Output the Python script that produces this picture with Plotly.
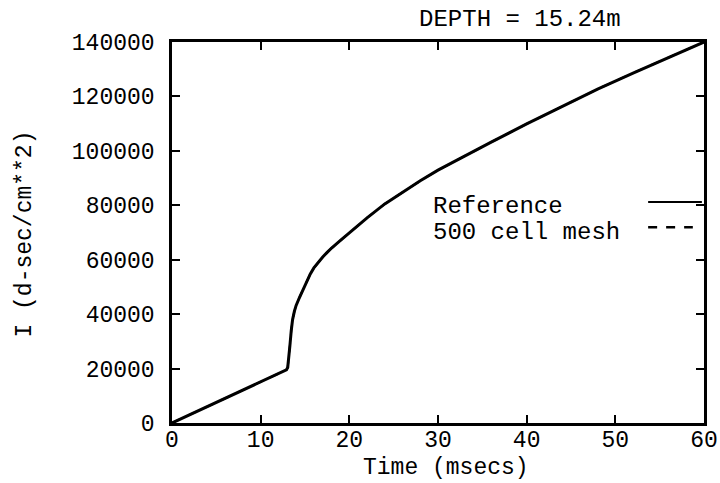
import plotly.graph_objects as go

# Data
time_ms = [0, 12.9, 13.05, 13.15, 13.3, 13.45, 13.6, 13.8, 14.0, 14.4, 14.8, 15.2, 15.6,
           16.0, 16.5, 17.0, 17.5, 18.0, 19.0, 20.0, 22.0, 24.0, 26.0, 28.0,
           30.0, 33.0, 36.0, 40.0, 44.0, 48.0, 52.0, 56.0, 60.0]
impulse_ref = [0, 19500, 20400, 23000, 28500, 34000, 38000, 41000, 43200, 46300, 49300,
               52200, 54800, 57000, 59200, 61000, 62700, 64300, 67100, 69900,
               75400, 80500, 84900, 89000, 92900, 98100, 103200, 109900, 116400,
               122700, 128600, 134300, 140000]
impulse_mesh = list(impulse_ref)  # visually coincident with the reference curve

x_ticks = [0, 10, 20, 30, 40, 50, 60]
y_ticks = [0, 20000, 40000, 60000, 80000, 100000, 120000, 140000]

FONT = "Liberation Mono"
FS = 23
FS_TXT = 24

fig = go.Figure()
fig.add_trace(go.Scatter(x=time_ms, y=impulse_ref, mode="lines", name="Reference",
                         line=dict(color="black", width=3)))
fig.add_trace(go.Scatter(x=time_ms, y=impulse_mesh, mode="lines", name="500 cell mesh",
                         line=dict(color="black", width=2, dash="dash")))

axis_common = dict(showline=True, linecolor="black", linewidth=2.5, mirror="ticks",
                   ticks="inside", ticklen=8, tickwidth=2, tickcolor="black",
                   showgrid=False, zeroline=False, automargin=False,
                   tickfont=dict(family=FONT, size=FS, color="black"))

fig.update_xaxes(range=[0, 60], tickvals=x_ticks, ticklabelstandoff=-6, **axis_common)
fig.update_yaxes(range=[0, 140000], tickvals=y_ticks, ticktext=[str(v) for v in y_ticks],
                 ticklabelstandoff=10, **axis_common)

# Axis titles
fig.add_annotation(x=0.515, y=-0.119, xref="paper", yref="paper", text="Time (msecs)",
                   showarrow=False, xanchor="center", yanchor="middle", borderpad=0,
                   font=dict(family=FONT, size=FS, color="black"))
fig.add_annotation(x=-0.276, y=0.495, xref="paper", yref="paper", text="I (d-sec/cm**2)",
                   showarrow=False, xanchor="center", yanchor="middle", textangle=-90,
                   font=dict(family=FONT, size=FS, color="black"))

# Legend drawn as text with sample lines on the right, like the original
legend_items = [("Reference", "solid", 0.5675, 0.580, 0.996),
                ("500 cell mesh", "dash", 0.499, 0.514, 0.979)]
for label, dash, ty, ly, lx1 in legend_items:
    fig.add_annotation(x=0.489, y=ty, xref="paper", yref="paper", text=label,
                       showarrow=False, xanchor="left", yanchor="middle", borderpad=0,
                       font=dict(family=FONT, size=FS_TXT, color="black"))
    fig.add_shape(type="line", xref="paper", yref="paper", x0=0.895, x1=lx1, y0=ly, y1=ly,
                  line=dict(color="black", width=2 if dash == "solid" else 2.5, dash=dash))

fig.update_layout(
    width=720, height=483,
    margin=dict(l=172, r=16, t=42, b=60),
    paper_bgcolor="white", plot_bgcolor="white",
    showlegend=False,
    title=dict(text="DEPTH = 15.24m", x=0.722, xanchor="center", y=0.963, yanchor="middle",
               font=dict(family=FONT, size=FS_TXT, color="black")),
)

fig.write_html("out.html")
